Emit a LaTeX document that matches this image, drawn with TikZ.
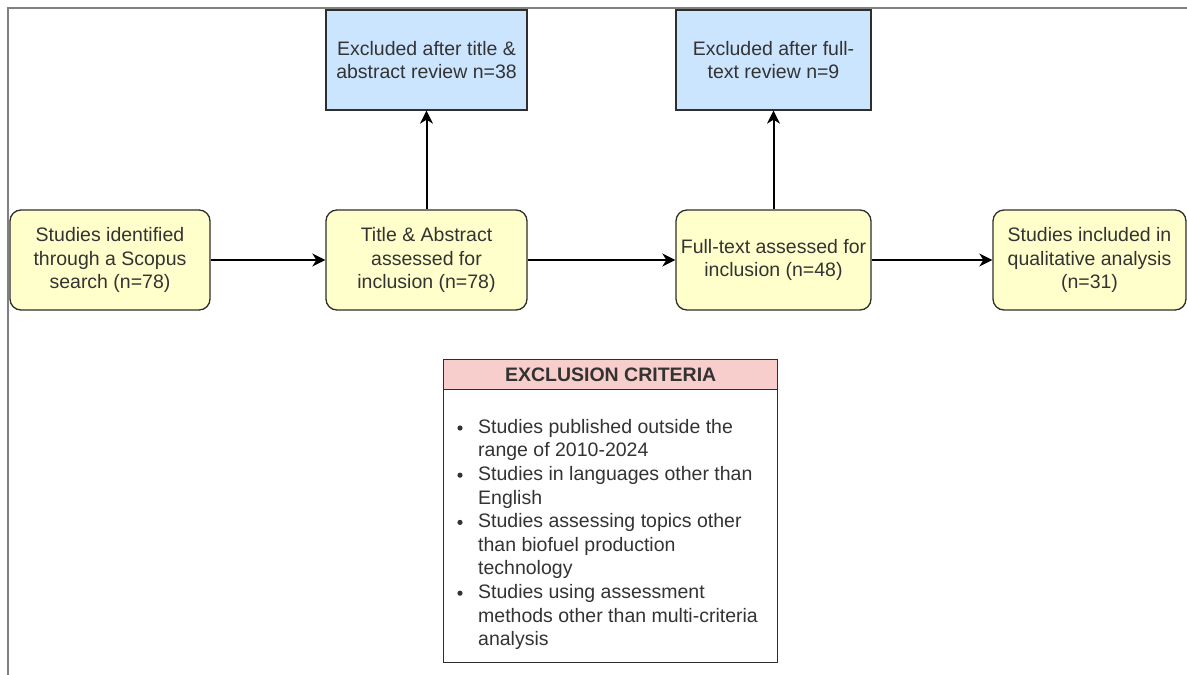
\documentclass[tikz,border=0pt]{standalone}
\usepackage{fontspec}
\setmainfont{Liberation Sans}
\usetikzlibrary{arrows.meta}
\definecolor{stepfill}{HTML}{FFFFCC}
\definecolor{exfill}{HTML}{CCE5FF}
\definecolor{headfill}{HTML}{F8CECC}
\definecolor{ink}{HTML}{333333}
\definecolor{framegray}{HTML}{808080}
\tikzset{
  base/.style={draw=ink!90!black, line width=1.3pt, text=ink, align=center,
    inner sep=0pt, font=\fontsize{19.5}{23.5}\selectfont},
  stepbox/.style={base, fill=stepfill, rounded corners=11pt},
  exbox/.style={base, fill=exfill},
  flow/.style={line width=2pt, -{Stealth[length=13pt,width=13pt,inset=4pt]}},
}
\begin{document}
\begin{tikzpicture}[x=1pt,y=-1pt]
\useasboundingbox (0,0) rectangle (1187,675);
% page frame
\draw[framegray, line width=2pt] (7.5,675) -- (7.5,8) -- (1187,8);

% stage boxes
\node[stepbox, minimum width=200pt, minimum height=100pt] (id) at (110,260)
  {Studies identified\\through a Scopus\\search (n=78)};
\node[stepbox, minimum width=201pt, minimum height=100pt] (ta) at (426.5,260)
  {Title \& Abstract\\assessed for\\inclusion (n=78)};
\node[stepbox, minimum width=195pt, minimum height=100pt] (ft) at (773.5,260)
  {Full-text assessed for\\inclusion (n=48)};
\node[stepbox, minimum width=193pt, minimum height=100pt] (inc) at (1089.5,260)
  {Studies included in\\qualitative analysis\\(n=31)};

% exclusion boxes
\node[exbox, minimum width=201pt, minimum height=100pt] (ex1) at (426.5,60)
  {Excluded after title \&\\abstract review n=38};
\node[exbox, minimum width=195pt, minimum height=100pt] (ex2) at (773.5,60)
  {Excluded after full-\\text review n=9};

% connectors
\draw[flow] (id) -- (ta);
\draw[flow] (ta) -- (ft);
\draw[flow] (ft) -- (inc);
\draw[flow] (ta.north) -- (ex1.south);
\draw[flow] (ft.north) -- (ex2.south);

% exclusion criteria panel
\node[base, fill=headfill, minimum width=334pt, minimum height=30pt, anchor=north west,
  font=\fontsize{19.5}{23.5}\selectfont\bfseries] (crithead) at (443,359) {EXCLUSION CRITERIA};
\node[base, fill=white, minimum width=334pt, minimum height=273pt, anchor=north west]
  (critbody) at (443,389) {};
\node[text=ink, align=left, inner sep=0pt, anchor=north west,
  font=\fontsize{19.5}{23.6}\selectfont] (critlist) at (478,419)
  {Studies published outside the\\
   range of 2010-2024\\
   Studies in languages other than\\
   English\\
   Studies assessing topics other\\
   than biofuel production\\
   technology\\
   Studies using assessment\\
   methods other than multi-criteria\\
   analysis};
\foreach \k/\yy in {b1/428, b2/475.2, b3/522.4, b4/593.2}
  \fill[ink] (460,\yy) circle (2.6pt) coordinate (\k);
\end{tikzpicture}
\end{document}
